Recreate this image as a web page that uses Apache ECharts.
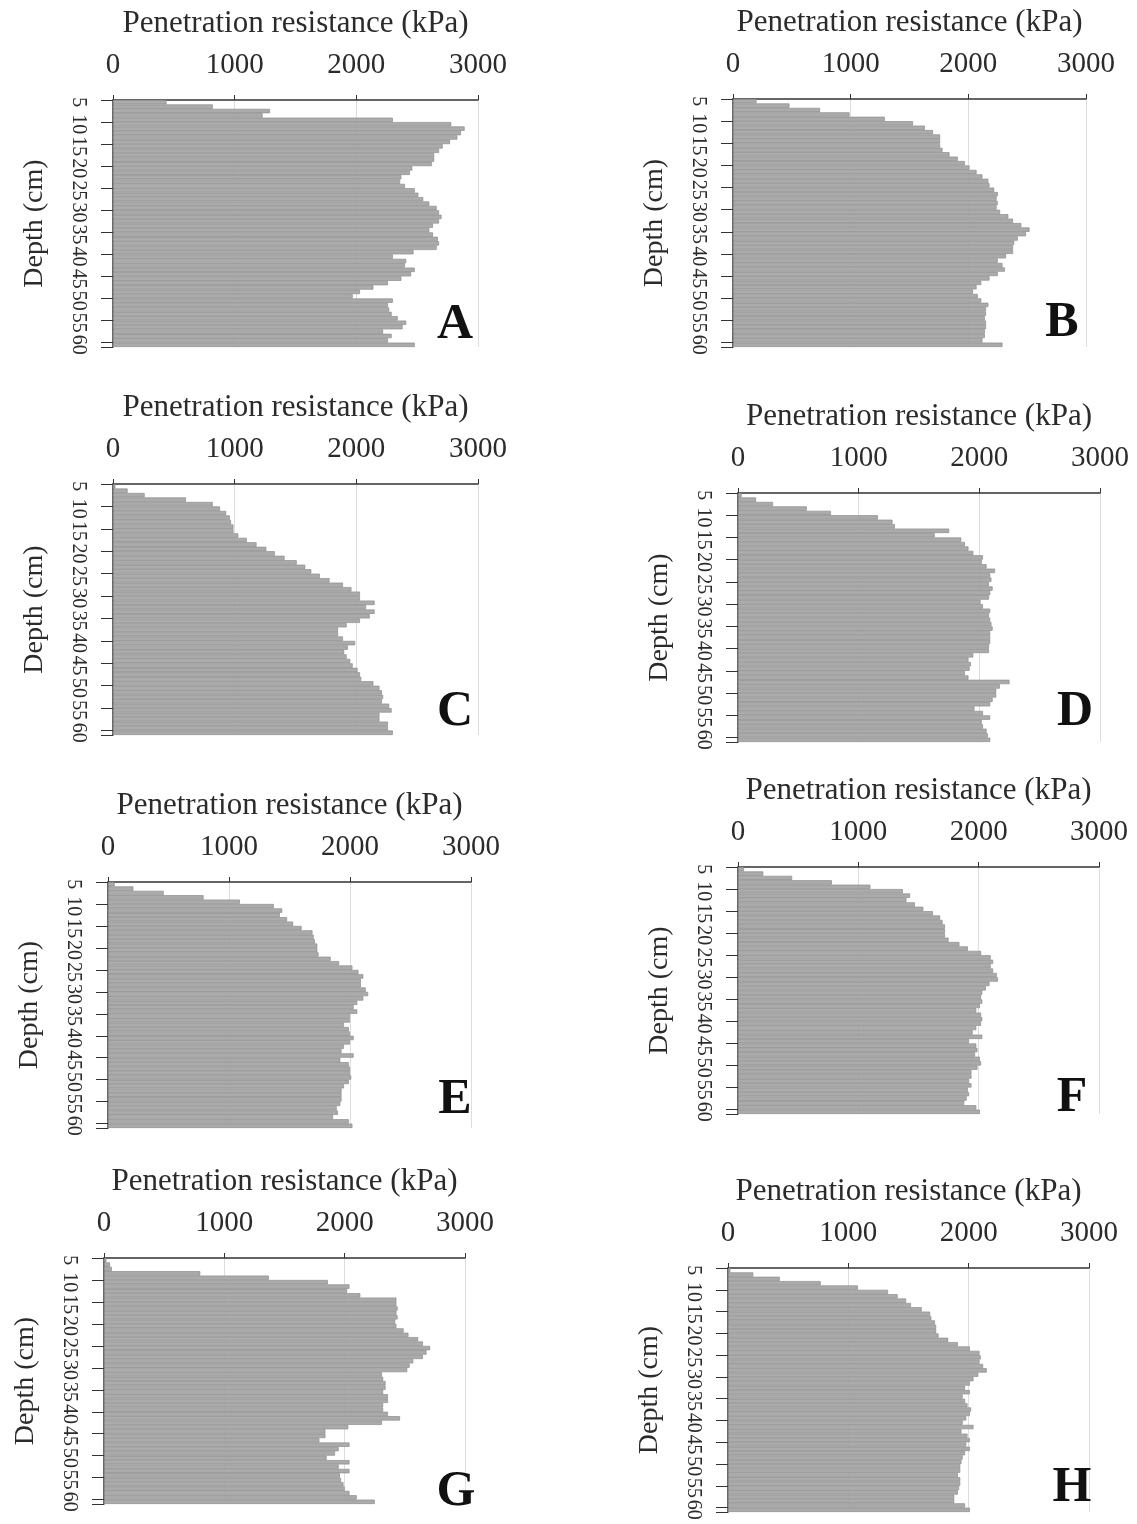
<!DOCTYPE html>
<html>
<head>
<meta charset="utf-8">
<script src="https://cdn.jsdelivr.net/npm/echarts@6/dist/echarts.min.js"></script>
<style>
html,body{margin:0;padding:0;background:#fff;}
#chart{width:1137px;height:1524px;}
</style>
</head>
<body>
<div id="chart"></div>
<script>
// Depth categories (cm)
var depths = ['5','6','7','8','9','10','11','12','13','14','15','16','17','18','19','20','21','22','23','24','25','26','27','28','29','30','31','32','33','34','35','36','37','38','39','40','41','42','43','44','45','46','47','48','49','50','51','52','53','54','55','56','57','58','59','60'];
var xTicks = [0, 1000, 2000, 3000];
var panelLabels = ['A','B','C','D','E','F','G','H'];

// Penetration resistance (kPa) per depth, one array per panel
var panelA = [440,820,1290,1230,2300,2780,2890,2860,2830,2770,2710,2680,2640,2640,2620,2460,2440,2370,2360,2400,2480,2510,2550,2600,2660,2680,2700,2680,2630,2600,2630,2670,2680,2660,2470,2300,2410,2400,2480,2450,2370,2260,2140,2030,1970,2300,2260,2270,2290,2340,2410,2380,2220,2290,2260,2480];
var panelB = [200,480,740,990,1290,1530,1630,1700,1760,1760,1760,1780,1840,1910,1970,2010,2070,2120,2170,2180,2220,2250,2240,2250,2240,2270,2340,2380,2450,2520,2490,2420,2390,2380,2380,2320,2250,2290,2310,2250,2180,2110,2070,2040,2080,2110,2170,2150,2150,2140,2150,2150,2140,2140,2120,2290];
var panelC = [20,120,260,600,820,880,930,960,970,990,990,1030,1100,1180,1260,1330,1410,1510,1580,1630,1700,1780,1890,1960,2030,2030,2150,2080,2150,2110,2030,1920,1850,1850,1890,1990,1930,1900,1920,1950,1970,2010,2030,2040,2140,2190,2210,2220,2210,2270,2290,2190,2190,2260,2260,2300];
var panelD = [30,150,290,570,770,1160,1280,1300,1750,1630,1850,1880,1910,1950,2030,2020,2060,2130,2090,2100,2080,2110,2090,2080,2010,2030,2090,2080,2090,2100,2110,2090,2090,2090,2080,2080,1950,1910,1930,1920,1880,1910,2250,2170,2140,2140,2110,2090,1960,2030,2090,2020,2030,2060,2070,2090];
var panelE = [55,210,460,790,1090,1370,1440,1420,1480,1530,1600,1690,1700,1710,1730,1730,1740,1840,1910,2020,2070,2110,2090,2090,2130,2150,2110,2060,2030,2060,2000,2000,1950,1990,2000,2030,2000,1950,1930,2030,1920,1990,2000,2000,2010,1990,1950,1930,1930,1930,1920,1890,1900,1860,1990,2020];
var panelF = [50,210,450,780,1100,1370,1430,1400,1470,1540,1620,1680,1700,1720,1720,1720,1750,1840,1910,2020,2100,2120,2100,2120,2150,2160,2090,2060,2030,2020,2030,2010,1980,2020,2030,2020,1980,1950,2030,1920,1980,1990,1970,2010,2020,1990,1940,1940,1920,1940,1910,1920,1900,1880,1980,2010];
var panelG = [20,50,65,800,1370,1860,2040,2020,2130,2430,2430,2440,2430,2440,2420,2430,2490,2530,2610,2650,2710,2680,2650,2570,2540,2520,2310,2320,2340,2340,2320,2360,2360,2320,2320,2360,2460,2310,2030,1840,1840,1790,2040,1950,1920,1850,2040,1950,2040,1960,1970,1990,2000,2040,2100,2250];
var panelH = [20,210,430,770,1080,1330,1410,1480,1520,1610,1680,1690,1720,1730,1730,1750,1830,1910,2010,2090,2100,2090,2120,2150,2080,2040,2010,1970,2010,1950,1970,1990,2020,2010,1980,1950,2040,1940,1990,2010,1980,2010,1970,1950,1940,1930,1930,1910,1930,1930,1920,1910,1880,1880,1970,2010];

var panelData = [panelA, panelB, panelC, panelD, panelE, panelF, panelG, panelH];

// Layout (pixels) for each panel grid and its letter
var grids = [
  {left:113, top:100, width:365, height:247},
  {left:733, top:99,  width:353, height:248},
  {left:113, top:484, width:365, height:251},
  {left:738, top:493, width:362, height:249},
  {left:108, top:882, width:363, height:246},
  {left:738, top:867, width:361, height:247},
  {left:104, top:1258, width:361, height:246},
  {left:728, top:1268, width:361, height:244}
];
var letterPos = [[455,325],[1062,323],[455,712],[1075,712],[455,1100],[1072,1098],[456,1492],[1072,1488]];

var serif = '"Liberation Serif", "DejaVu Serif", serif';
var textColor = '#2b2b2b';

var option = {
  backgroundColor: '#ffffff',
  animation: false,
  grid: [], xAxis: [], yAxis: [], series: [], graphic: []
};

for (var i = 0; i < 8; i++) {
  option.grid.push(grids[i]);
  option.xAxis.push({
    type: 'value', gridIndex: i, position: 'top',
    min: xTicks[0], max: xTicks[xTicks.length - 1], interval: xTicks[1] - xTicks[0],
    name: 'Penetration resistance (kPa)', nameLocation: 'middle', nameGap: 61,
    nameTextStyle: {fontFamily: serif, fontSize: 31, color: textColor},
    axisLine: {show: true, lineStyle: {color: '#333', width: 1.5}},
    axisTick: {show: true, length: 5, lineStyle: {color: '#333'}},
    axisLabel: {fontFamily: serif, fontSize: 29, color: textColor, margin: 20,
                formatter: function (v) { return String(v); }},
    splitLine: {show: true, lineStyle: {color: '#dedede', width: 1}}
  });
  option.yAxis.push({
    type: 'category', gridIndex: i, inverse: true, data: depths,
    name: 'Depth (cm)', nameLocation: 'middle', nameGap: 64,
    nameTextStyle: {fontFamily: serif, fontSize: 28, color: textColor},
    axisLine: {show: true, lineStyle: {color: '#333', width: 1.5}},
    axisTick: {show: true, interval: 4, length: 12, lineStyle: {color: '#333'}},
    axisLabel: {interval: 4, rotate: -90, fontFamily: serif, fontSize: 20, color: textColor, margin: 25,
                showMinLabel: true, showMaxLabel: true, hideOverlap: false},
    splitLine: {show: false}
  });
  option.series.push({
    type: 'bar', xAxisIndex: i, yAxisIndex: i, data: panelData[i],
    barCategoryGap: '0%',
    itemStyle: {color: '#ababab', borderColor: '#8c8c8c', borderWidth: 0.7}
  });
  option.graphic.push({
    type: 'text', x: letterPos[i][0], y: letterPos[i][1], z: 100,
    style: {text: panelLabels[i], fontFamily: serif, fontSize: 50, fontWeight: 'bold',
            fill: '#111', align: 'center', verticalAlign: 'middle'}
  });
}

var chart = echarts.init(document.getElementById('chart'), null, {renderer: 'canvas'});
chart.setOption(option);
</script>
</body>
</html>
